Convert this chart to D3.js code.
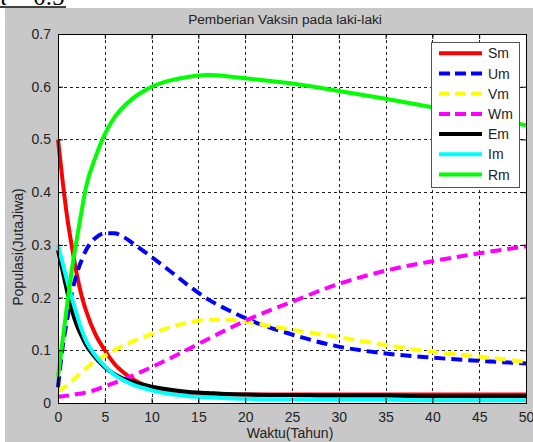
<!DOCTYPE html>
<html>
<head>
<meta charset="utf-8">
<script src="https://cdn.jsdelivr.net/npm/d3@7/dist/d3.min.js"></script>
<style>
  body { margin: 0; background: #fff; }
  text { font-family: Arial, "Liberation Sans", sans-serif; }
</style>
</head>
<body>
<div id="chart"></div>
<script>
var W = 533, H = 442;

// time points (tahun)
var tahun = [0, 0.5, 1, 1.5, 2, 2.5, 3, 4, 5, 6, 7, 8, 9, 10, 12, 14, 16, 18, 20, 25, 30, 35, 40, 45, 50];

var Sm = [0.5, 0.42, 0.35, 0.295, 0.245, 0.205, 0.175, 0.13, 0.1, 0.075, 0.058, 0.045, 0.036, 0.03, 0.023, 0.019, 0.017, 0.016, 0.016, 0.016, 0.016, 0.016, 0.016, 0.016, 0.016];
var Um = [0.03, 0.107, 0.16, 0.21, 0.245, 0.27, 0.29, 0.313, 0.322, 0.322, 0.315, 0.303, 0.29, 0.277, 0.25, 0.222, 0.197, 0.178, 0.161, 0.13, 0.107, 0.094, 0.086, 0.08, 0.075];
var Vm = [0.022, 0.028, 0.034, 0.042, 0.05, 0.058, 0.066, 0.08, 0.09, 0.1, 0.109, 0.117, 0.124, 0.131, 0.144, 0.153, 0.158, 0.158, 0.154, 0.139, 0.125, 0.11, 0.097, 0.088, 0.078];
var Wm = [0.012, 0.013, 0.014, 0.015, 0.017, 0.018, 0.02, 0.025, 0.032, 0.038, 0.045, 0.052, 0.06, 0.068, 0.085, 0.103, 0.121, 0.139, 0.156, 0.192, 0.226, 0.251, 0.269, 0.284, 0.297];
var Em = [0.29, 0.25, 0.21, 0.175, 0.148, 0.128, 0.11, 0.086, 0.068, 0.055, 0.046, 0.04, 0.035, 0.031, 0.025, 0.021, 0.019, 0.017, 0.016, 0.015, 0.014, 0.014, 0.013, 0.013, 0.013];
var Im = [0.3, 0.265, 0.23, 0.198, 0.168, 0.14, 0.118, 0.09, 0.07, 0.054, 0.043, 0.035, 0.029, 0.024, 0.017, 0.013, 0.011, 0.009, 0.008, 0.007, 0.006, 0.006, 0.005, 0.005, 0.005];
var Rm = [0.05, 0.12, 0.19, 0.255, 0.31, 0.362, 0.41, 0.466, 0.51, 0.541, 0.562, 0.578, 0.59, 0.6, 0.612, 0.619, 0.622, 0.62, 0.616, 0.606, 0.592, 0.577, 0.561, 0.544, 0.527];

var names = ['Sm', 'Um', 'Vm', 'Wm', 'Em', 'Im', 'Rm'];
var colors = ['#ff0000', '#0000ff', '#ffff00', '#ff00ff', '#000000', '#00ffff', '#00ff00'];
var dashed = [false, true, true, true, false, false, false];
var allSeries = [Sm, Um, Vm, Wm, Em, Im, Rm];

var xTicks = [0, 5, 10, 15, 20, 25, 30, 35, 40, 45, 50];
var yTicks = [0, 0.1, 0.2, 0.3, 0.4, 0.5, 0.6, 0.7];

var svg = d3.select('#chart')
    .append('svg')
    .attr('width', W)
    .attr('height', H);

// leftover of the figure above (cut off)
svg.append('text')
    .attr('x', -6)
    .attr('y', 5)
    .style('font-family', '"Liberation Serif", "Times New Roman", serif')
    .style('font-size', '25px')
    .text('\u03c0 = 0.5');
svg.append('line')
    .attr('x1', 0).attr('x2', 66)
    .attr('y1', 7).attr('y2', 7)
    .style('stroke', '#000')
    .style('stroke-width', 1.5);

// gray figure background
svg.append('rect')
    .attr('x', 5).attr('y', 8)
    .attr('width', W - 5).attr('height', H - 8)
    .style('fill', '#c8c8c8');

var pLeft = 58, pRight = 526, pTop = 34, pBottom = 403;

var x = d3.scaleLinear().domain([0, 50]).range([pLeft, pRight]);
var y = d3.scaleLinear().domain([0, 0.7]).range([pBottom, pTop]);

svg.append('rect')
    .attr('x', pLeft).attr('y', pTop)
    .attr('width', pRight - pLeft).attr('height', pBottom - pTop)
    .style('fill', '#fff');

// grid
var grid = svg.append('g');
grid.selectAll('.gx')
    .data(xTicks.slice(1, -1))
    .enter().append('line')
    .attr('x1', function(d) { return Math.round(x(d)) + 0.5; })
    .attr('x2', function(d) { return Math.round(x(d)) + 0.5; })
    .attr('y1', pTop).attr('y2', pBottom)
    .style('stroke', '#222')
    .style('stroke-dasharray', '3,3')
    .style('stroke-width', 1);
grid.selectAll('.gy')
    .data(yTicks.slice(1, -1))
    .enter().append('line')
    .attr('y1', function(d) { return Math.round(y(d)) + 0.5; })
    .attr('y2', function(d) { return Math.round(y(d)) + 0.5; })
    .attr('x1', pLeft).attr('x2', pRight)
    .style('stroke', '#222')
    .style('stroke-dasharray', '3,3')
    .style('stroke-width', 1);

// lines
var line = d3.line()
    .x(function(d) { return x(d[0]); })
    .y(function(d) { return y(d[1]); })
    .curve(d3.curveMonotoneX);

allSeries.forEach(function(s, i) {
    svg.append('path')
        .datum(tahun.map(function(t, j) { return [t, s[j]]; }))
        .attr('d', line)
        .style('fill', 'none')
        .style('stroke', colors[i])
        .style('stroke-width', 4)
        .style('stroke-dasharray', dashed[i] ? '11,6' : null);
});

// axes
var xAxis = d3.axisBottom(x).tickValues(xTicks).tickSize(-5).tickPadding(9)
    .tickFormat(d3.format('d'));
var yAxis = d3.axisLeft(y).tickValues(yTicks).tickSize(-5).tickPadding(7)
    .tickFormat(function(d) { return d === 0 ? '0' : d3.format('.1f')(d); });

svg.append('g')
    .attr('transform', 'translate(0,' + pBottom + ')')
    .call(xAxis);
svg.append('g')
    .attr('transform', 'translate(' + pLeft + ',0)')
    .call(yAxis);
svg.append('g')
    .attr('transform', 'translate(0,' + pTop + ')')
    .call(d3.axisTop(x).tickValues(xTicks).tickSize(-5).tickFormat(''));
svg.append('g')
    .attr('transform', 'translate(' + pRight + ',0)')
    .call(d3.axisRight(y).tickValues(yTicks).tickSize(-5).tickFormat(''));

svg.selectAll('.domain').style('stroke', '#000');
svg.selectAll('.tick line').style('stroke', '#000');
svg.selectAll('.tick text')
    .style('font-family', 'Arial, "Liberation Sans", sans-serif')
    .style('font-size', '14px')
    .style('fill', '#222');

svg.append('rect')
    .attr('x', pLeft + 0.5).attr('y', pTop + 0.5)
    .attr('width', pRight - pLeft).attr('height', pBottom - pTop)
    .style('fill', 'none')
    .style('stroke', '#000');

// titles
svg.append('text')
    .attr('x', 285).attr('y', 24)
    .attr('text-anchor', 'middle')
    .style('font-size', '13.7px')
    .style('fill', '#222')
    .text('Pemberian Vaksin pada laki-laki');

svg.append('text')
    .attr('x', 290).attr('y', 438)
    .attr('text-anchor', 'middle')
    .style('font-size', '14px')
    .style('fill', '#222')
    .text('Waktu(Tahun)');

svg.append('text')
    .attr('transform', 'translate(23,247) rotate(-90)')
    .attr('text-anchor', 'middle')
    .style('font-size', '14px')
    .style('fill', '#222')
    .text('Populasi(JutaJiwa)');

// legend
var legend = svg.append('g');
legend.append('rect')
    .attr('x', 431.5).attr('y', 42.5)
    .attr('width', 88).attr('height', 145)
    .style('fill', '#fff')
    .style('stroke', '#555');

var items = legend.selectAll('.item')
    .data(names)
    .enter().append('g')
    .attr('class', 'item')
    .attr('transform', function(d, i) { return 'translate(0,' + (53.3 + i * 20.2) + ')'; });

items.append('line')
    .attr('x1', 439).attr('x2', 482)
    .style('stroke', function(d, i) { return colors[i]; })
    .style('stroke-width', 4)
    .style('stroke-dasharray', function(d, i) { return dashed[i] ? '11,5' : null; });

items.append('text')
    .attr('x', 488).attr('y', 5)
    .style('font-size', '14px')
    .style('fill', '#222')
    .text(function(d) { return d; });
</script>
</body>
</html>
